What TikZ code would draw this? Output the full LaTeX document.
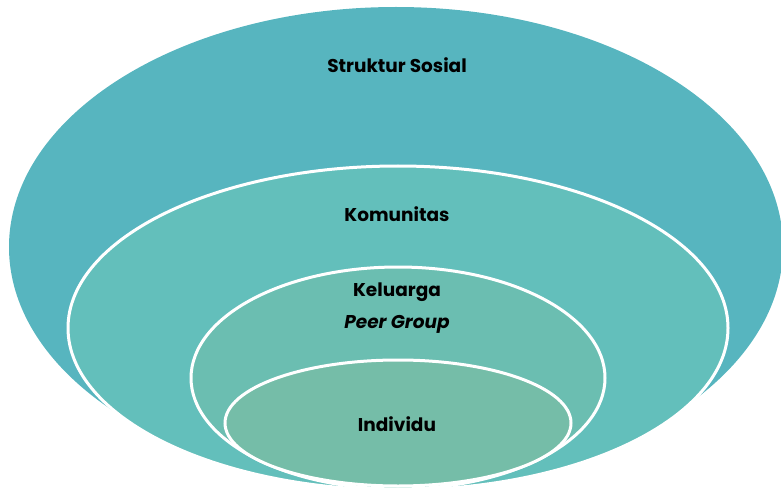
\documentclass[tikz,border=0pt]{standalone}
\usepackage{fontspec}
\setmainfont{Poppins}
\usepackage{tikz}
\definecolor{sosial}{HTML}{57B5BF}
\definecolor{komunitas}{HTML}{63BFBB}
\definecolor{keluarga}{HTML}{6BBEB1}
\definecolor{individu}{HTML}{75BDA8}
\tikzset{
  lingkar/.style={draw=white, line width=3pt},
  label/.style={font=\fontsize{18.5}{20}\selectfont\bfseries, inner sep=0pt}
}

\begin{document}
\begin{tikzpicture}[x=1pt, y=-1pt]
    % Batas gambar
    \useasboundingbox (0,0) rectangle (781,489);
    \clip (0,0) rectangle (781,489);

    % Elips bertingkat
    \fill[sosial] (396,247) ellipse [x radius=387, y radius=240];
    \draw[lingkar, fill=komunitas] (398,328) ellipse [x radius=330, y radius=162];
    \draw[lingkar, fill=keluarga] (398,378) ellipse [x radius=207, y radius=111];
    \draw[lingkar, fill=individu] (398,423) ellipse [x radius=173, y radius=63];

    % Label
    \node[label] (struktur) at (397,65) {Struktur Sosial};
    \node[label] (komun) at (397,214) {Komunitas};
    \node[label] (kel) at (397,292) {Keluarga};
    \node[label, font=\fontsize{18.5}{20}\selectfont\bfseries\itshape] (peer) at (397,324) {Peer Group};
    \node[label] (indiv) at (397,424) {Individu};
\end{tikzpicture}
\end{document}
